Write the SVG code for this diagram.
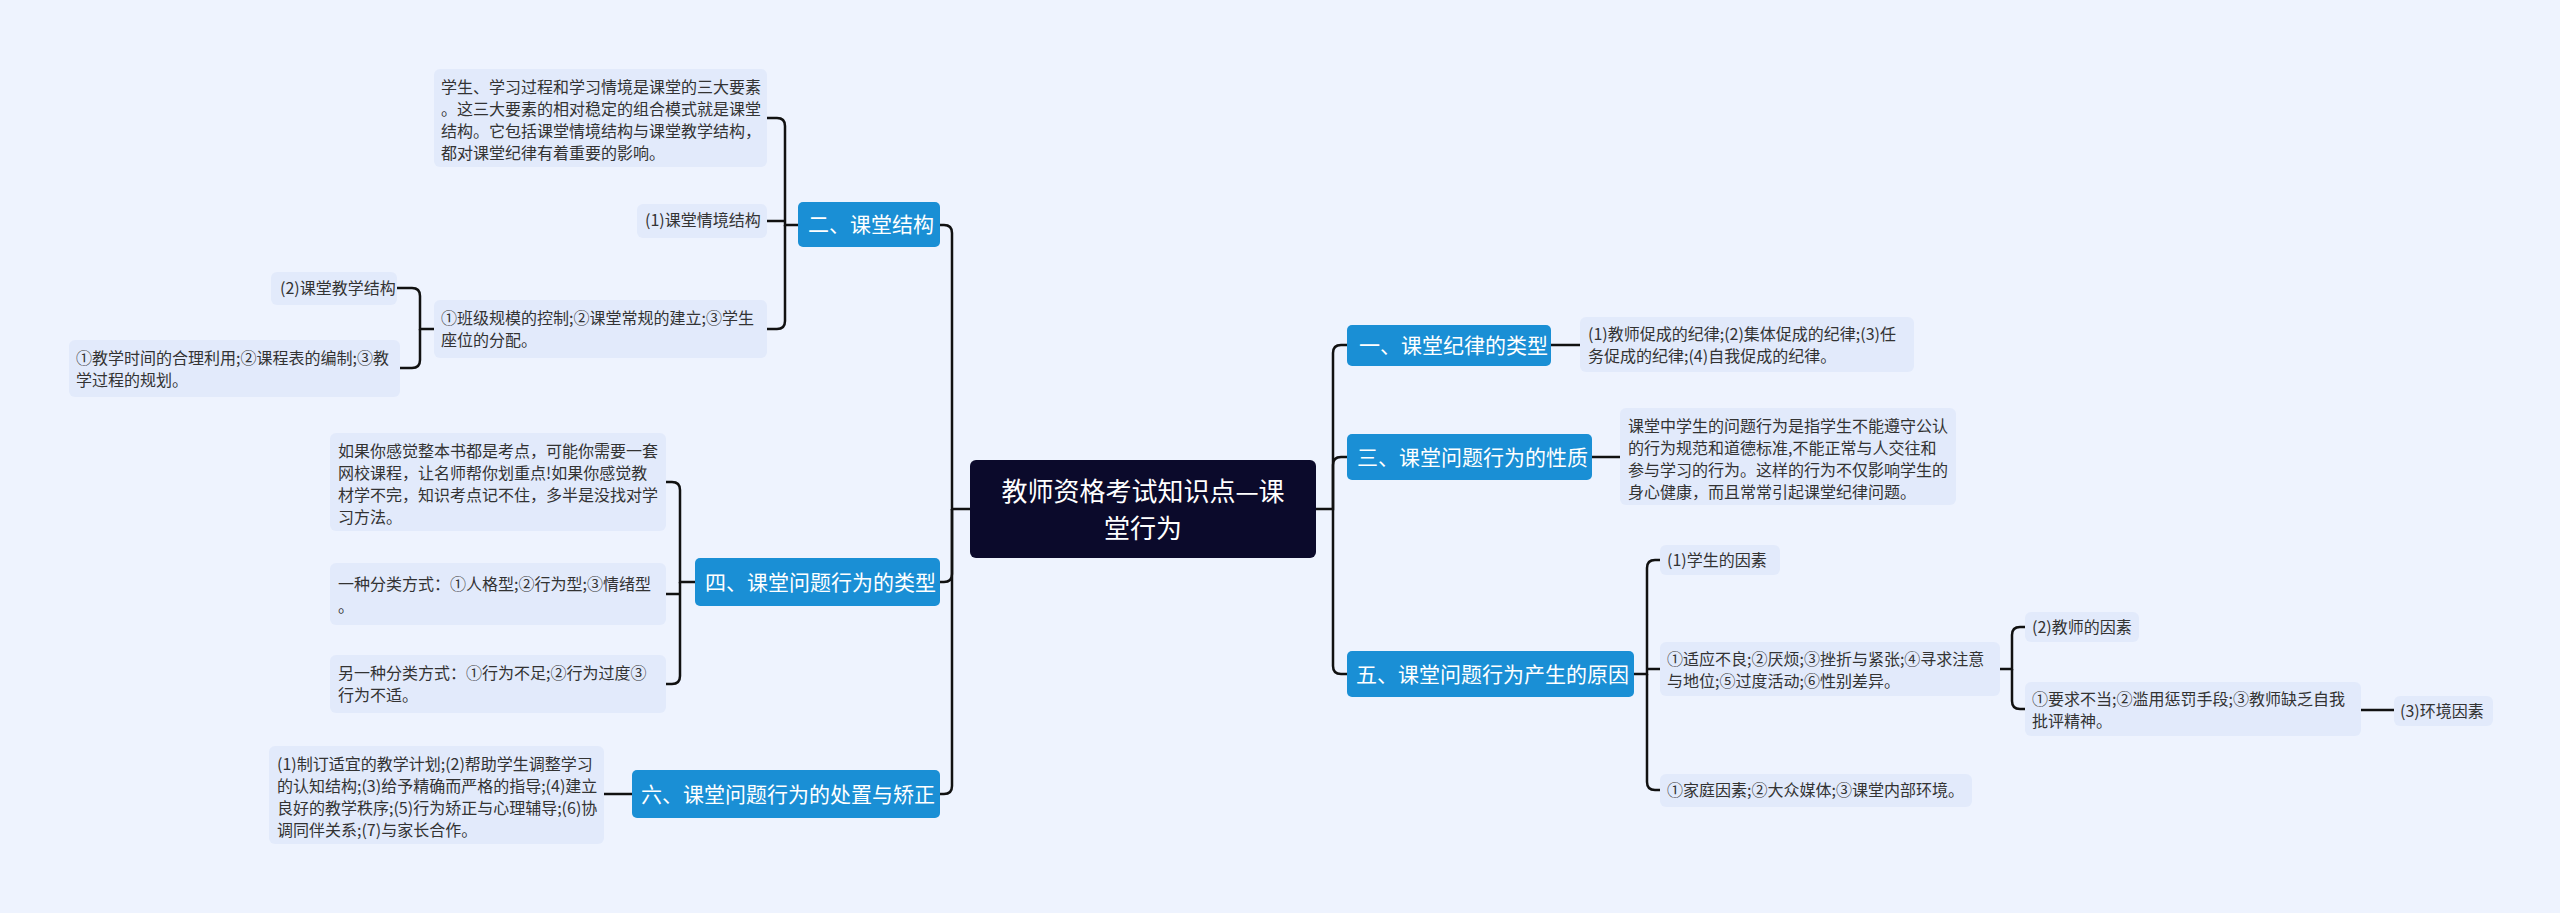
<svg xmlns="http://www.w3.org/2000/svg" width="2560" height="913" viewBox="0 0 2560 913">
<style>
text{font-family:"Noto Sans CJK SC","Liberation Sans",sans-serif}
.leaf rect{fill:#e2eafb}
.leaf text{font-size:16px;fill:#333}
.br rect{fill:#1a8fd5}
.br text{font-size:21px;fill:#fff}
.c path{fill:none;stroke:#111;stroke-width:2.5}
</style>
<rect width="2560" height="913" fill="#eef3fe"/>
<g class="c">
<path d="M1316 509 H1333 V353 Q1333 345 1341 345 H1347"/>
<path d="M1333 509 V465 Q1333 457 1341 457 H1347"/>
<path d="M1333 509 V666 Q1333 674 1341 674 H1347"/>
<path d="M1551 345 H1580"/>
<path d="M1592 457 H1620"/>
<path d="M1634 674 H1647 V568 Q1647 560 1655 560 H1660"/>
<path d="M1647 674 V782 Q1647 790 1655 790 H1660"/>
<path d="M1647 669 H1660"/>
<path d="M2000 669 H2012 V635 Q2012 627 2020 627 H2025"/>
<path d="M2012 669 V701 Q2012 709 2020 709 H2025"/>
<path d="M2361 710 H2394"/>
<path d="M970 509 H952 V233 Q952 225 944 225 H940"/>
<path d="M952 509 V574 Q952 582 944 582 H940"/>
<path d="M952 509 V786 Q952 794 944 794 H940"/>
<path d="M798 225 H785 V126 Q785 118 777 118 H767"/>
<path d="M785 225 V321 Q785 329 777 329 H767"/>
<path d="M785 221 H767"/>
<path d="M434 329 H420 V296 Q420 288 412 288 H397"/>
<path d="M420 329 V360 Q420 368 412 368 H400"/>
<path d="M695 582 H680 V490 Q680 482 672 482 H666"/>
<path d="M680 582 V676 Q680 684 672 684 H666"/>
<path d="M680 594 H666"/>
<path d="M632 794 H604"/>
</g>
<g id="center"><rect x="970" y="460" width="346" height="98" rx="6" fill="#0b0a2b"/>
<text x="1143" y="501" font-size="26" fill="#fff" text-anchor="middle">教师资格考试知识点—课</text>
<text x="1143" y="538" font-size="26" fill="#fff" text-anchor="middle">堂行为</text></g>
<g id="b1" class="br"><rect x="1347" y="325" width="204" height="41" rx="5"/><text x="1359" y="353">一、课堂纪律的类型</text></g>
<g id="b1l" class="leaf"><rect x="1580" y="317" width="334" height="55" rx="6"/><text x="1588" y="340">(1)教师促成的纪律;(2)集体促成的纪律;(3)任</text><text x="1588" y="362">务促成的纪律;(4)自我促成的纪律。</text></g>
<g id="b3" class="br"><rect x="1347" y="434" width="245" height="46" rx="5"/><text x="1357" y="465">三、课堂问题行为的性质</text></g>
<g id="b3l" class="leaf"><rect x="1620" y="408" width="336" height="97" rx="6"/><text x="1628" y="432">课堂中学生的问题行为是指学生不能遵守公认</text><text x="1628" y="454">的行为规范和道德标准,不能正常与人交往和</text><text x="1628" y="476">参与学习的行为。这样的行为不仅影响学生的</text><text x="1628" y="498">身心健康，而且常常引起课堂纪律问题。</text></g>
<g id="b5" class="br"><rect x="1347" y="651" width="287" height="46" rx="5"/><text x="1356" y="682">五、课堂问题行为产生的原因</text></g>
<g id="b5a" class="leaf"><rect x="1660" y="545" width="120" height="30" rx="6"/><text x="1667" y="566">(1)学生的因素</text></g>
<g id="b5b" class="leaf"><rect x="1660" y="642" width="340" height="54" rx="6"/><text x="1667" y="665">①适应不良;②厌烦;③挫折与紧张;④寻求注意</text><text x="1667" y="687">与地位;⑤过度活动;⑥性别差异。</text></g>
<g id="b5c" class="leaf"><rect x="1660" y="774" width="312" height="33" rx="6"/><text x="1667" y="796">①家庭因素;②大众媒体;③课堂内部环境。</text></g>
<g id="b5d" class="leaf"><rect x="2025" y="612" width="114" height="30" rx="6"/><text x="2032" y="633">(2)教师的因素</text></g>
<g id="b5e" class="leaf"><rect x="2025" y="682" width="336" height="54" rx="6"/><text x="2032" y="705">①要求不当;②滥用惩罚手段;③教师缺乏自我</text><text x="2032" y="727">批评精神。</text></g>
<g id="b5f" class="leaf"><rect x="2394" y="696" width="99" height="30" rx="6"/><text x="2400" y="717">(3)环境因素</text></g>
<g id="b2" class="br"><rect x="798" y="202" width="142" height="45" rx="5"/><text x="808" y="232">二、课堂结构</text></g>
<g id="b2a" class="leaf"><rect x="434" y="69" width="333" height="98" rx="6"/><text x="441" y="93">学生、学习过程和学习情境是课堂的三大要素</text><text x="441" y="115">。这三大要素的相对稳定的组合模式就是课堂</text><text x="441" y="137">结构。它包括课堂情境结构与课堂教学结构，</text><text x="441" y="159">都对课堂纪律有着重要的影响。</text></g>
<g id="b2b" class="leaf"><rect x="637" y="204" width="130" height="34" rx="6"/><text x="645" y="226">(1)课堂情境结构</text></g>
<g id="b2c" class="leaf"><rect x="434" y="300" width="333" height="58" rx="6"/><text x="441" y="324">①班级规模的控制;②课堂常规的建立;③学生</text><text x="441" y="346">座位的分配。</text></g>
<g id="b2d" class="leaf"><rect x="271" y="272" width="126" height="33" rx="6"/><text x="280" y="294">(2)课堂教学结构</text></g>
<g id="b2e" class="leaf"><rect x="69" y="340" width="331" height="57" rx="6"/><text x="76" y="364">①教学时间的合理利用;②课程表的编制;③教</text><text x="76" y="386">学过程的规划。</text></g>
<g id="b4" class="br"><rect x="695" y="558" width="245" height="48" rx="5"/><text x="705" y="590">四、课堂问题行为的类型</text></g>
<g id="b4a" class="leaf"><rect x="330" y="433" width="336" height="98" rx="6"/><text x="338" y="457">如果你感觉整本书都是考点，可能你需要一套</text><text x="338" y="479">网校课程，让名师帮你划重点!如果你感觉教</text><text x="338" y="501">材学不完，知识考点记不住，多半是没找对学</text><text x="338" y="523">习方法。</text></g>
<g id="b4b" class="leaf"><rect x="330" y="563" width="336" height="62" rx="6"/><text x="338" y="590">一种分类方式：①人格型;②行为型;③情绪型</text><text x="338" y="612">。</text></g>
<g id="b4c" class="leaf"><rect x="330" y="655" width="336" height="58" rx="6"/><text x="338" y="679">另一种分类方式：①行为不足;②行为过度③</text><text x="338" y="701">行为不适。</text></g>
<g id="b6" class="br"><rect x="632" y="770" width="308" height="48" rx="5"/><text x="641" y="802">六、课堂问题行为的处置与矫正</text></g>
<g id="b6a" class="leaf"><rect x="269" y="746" width="335" height="98" rx="6"/><text x="277" y="770">(1)制订适宜的教学计划;(2)帮助学生调整学习</text><text x="277" y="792">的认知结构;(3)给予精确而严格的指导;(4)建立</text><text x="277" y="814">良好的教学秩序;(5)行为矫正与心理辅导;(6)协</text><text x="277" y="836">调同伴关系;(7)与家长合作。</text></g>
</svg>
